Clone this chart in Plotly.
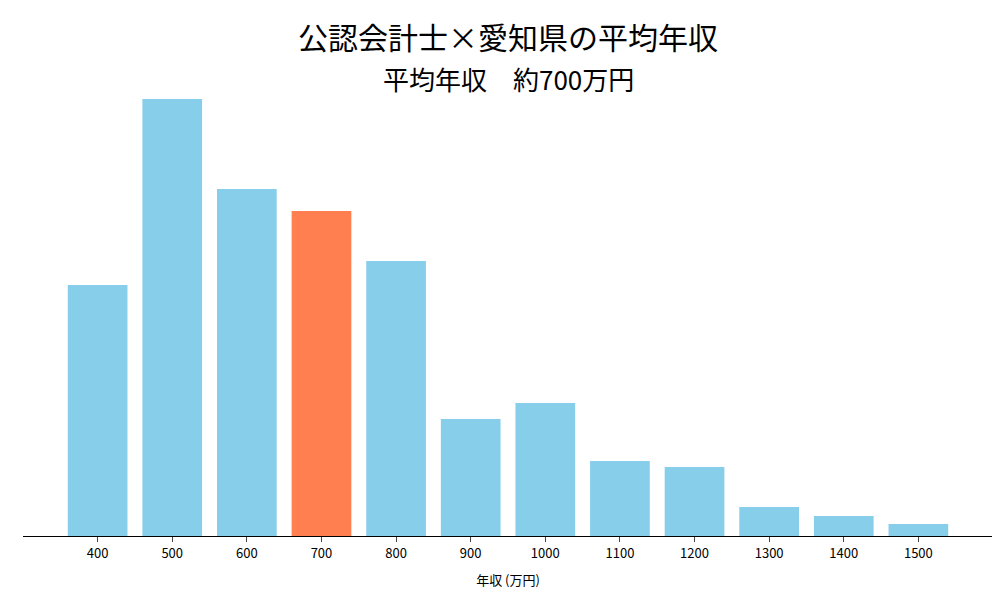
import plotly.graph_objects as go

categories = ["400","500","600","700","800","900","1000","1100","1200","1300","1400","1500"]
values = [251, 437, 347, 325, 275, 117, 133, 75, 69, 29, 20, 12]
highlight = "700"

colors = ["#FF7F50" if c == highlight else "#87CEEB" for c in categories]
xs = list(range(len(categories)))

fig = go.Figure(go.Bar(x=xs, y=values, marker_color=colors, width=0.8, marker_line_width=0))
fig.update_layout(
    width=1000, height=600,
    paper_bgcolor="white", plot_bgcolor="white",
    margin=dict(l=15, r=15, t=69, b=72),
    font=dict(family="Noto Sans CJK JP", color="black"),
    showlegend=False,
    annotations=[
        dict(text="公認会計士×愛知県の平均年収", x=0.5, y=28, xref="paper", yref="paper", yanchor="middle", showarrow=False, font=dict(size=30)),
        dict(text="平均年収　約700万円", x=0.5, y=70, xref="paper", yref="paper", showarrow=False, font=dict(size=26)),
    ],
)
# place titles in pixel space
fig.layout.annotations[0].update(yref="paper", y=1 + (69-28)/459, yanchor="middle")
fig.layout.annotations[1].update(yref="paper", y=1 + (69-70)/459 + 0.0, yanchor="middle")
fig.layout.annotations[1].update(y=1 + (69-72+3)/459 - 0.0)
fig.layout.annotations[1].update(y=(528-70-0)/459 - (528-69)/459 + 1 + 0.0)
fig.update_xaxes(range=[-1, 12], tickmode="array", tickvals=xs, ticktext=categories,
                 showline=True, linecolor="black", linewidth=1, ticks="outside", ticklen=5,
                 tickfont=dict(size=13), title=dict(text="年収 (万円)", font=dict(size=13)),
                 showgrid=False, zeroline=False)
fig.update_yaxes(range=[0, 459], visible=False)
fig.write_html("out.html")
